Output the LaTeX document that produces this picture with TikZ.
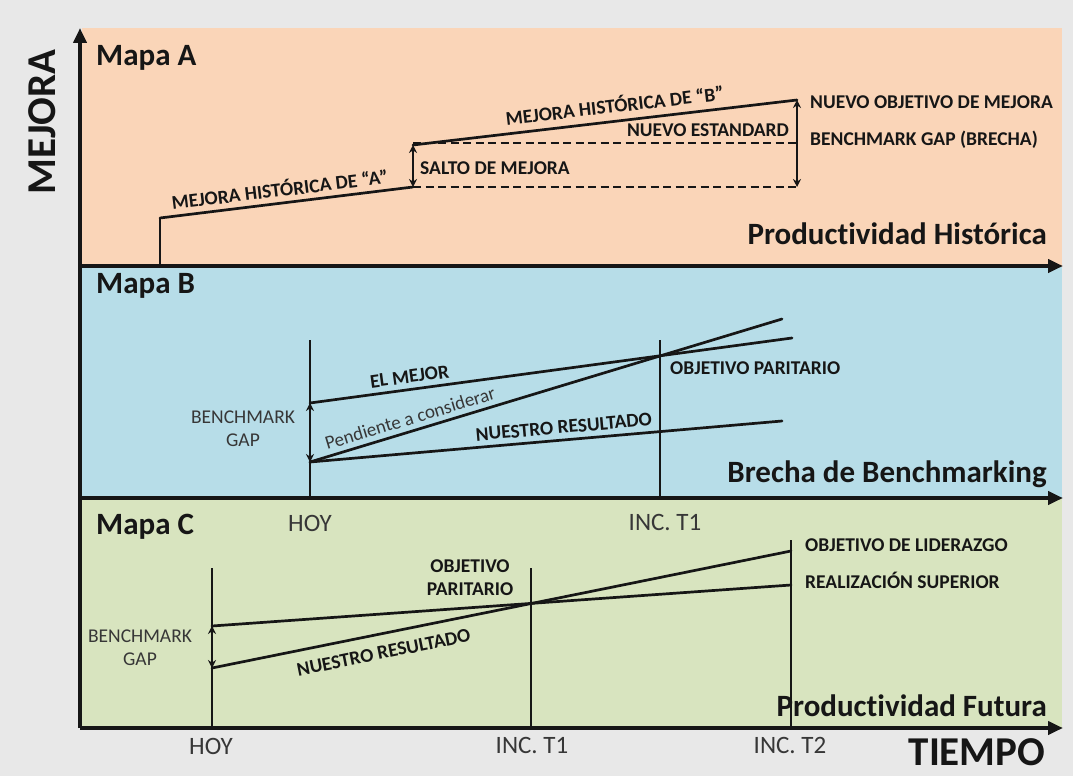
\documentclass[tikz,border=0pt]{standalone}
\usepackage{fontspec}
\setmainfont{Carlito}[Ligatures={NoCommon,NoRare,NoContextual}]
\usetikzlibrary{arrows.meta}

\definecolor{paper}{RGB}{232,232,232}
\definecolor{peach}{RGB}{250,213,184}
\definecolor{sky}{RGB}{183,221,232}
\definecolor{sage}{RGB}{216,228,191}
\definecolor{ink}{RGB}{22,22,22}
\definecolor{softink}{RGB}{55,55,55}

\begin{document}
\begin{tikzpicture}[x=1pt,y=-1pt,
  axis/.style={line width=4pt,draw=ink,-{Triangle[length=15pt,width=13pt]}},
  trend/.style={line width=2.7pt,draw=ink,line cap=round},
  marker/.style={line width=1.4pt,draw=ink},
  guide/.style={line width=2.3pt,draw=ink,dash pattern=on 8pt off 4.5pt},
  gaparrow/.style={line width=2pt,draw=ink,{Stealth[length=8pt,width=8pt]}-{Stealth[length=8pt,width=8pt]}},
  heading/.style={font=\fontsize{31}{34}\selectfont\bfseries,text=ink,inner sep=0pt},
  axistitle/.style={font=\fontsize{41}{44}\selectfont\bfseries,text=ink,inner sep=0pt},
  tag/.style={font=\fontsize{19.5}{22}\selectfont\bfseries,text=ink,inner sep=0pt},
  plain/.style={font=\fontsize{19.5}{23}\selectfont,text=softink,inner sep=0pt,align=center},
  tick/.style={font=\fontsize{25}{28}\selectfont,text=softink,inner sep=0pt}
]
\useasboundingbox (0,0) rectangle (1073,776);
\fill[paper] (0,0) rectangle (1073,776);

% three map bands
\fill[peach] (82,28) rectangle (1062,267);
\fill[sky]   (82,267) rectangle (1062,498);
\fill[sage]  (82,498) rectangle (1062,728);

% ---------- Mapa A: historical productivity ----------
\coordinate (a0) at (160,266);
\coordinate (a1) at (160,218);
\coordinate (a2) at (413,187);
\coordinate (a3) at (413,145);
\coordinate (a4) at (797,100);
\coordinate (a5) at (797,187);
\coordinate (s1) at (413,143);
\coordinate (s2) at (797,143);

\draw[marker] (a0) -- (a1);
\draw[trend] (a1) -- (a2)
  node[pos=0.48,sloped,above=5pt,tag] {MEJORA HISTÓRICA DE “A”};
\draw[trend] (a3) -- (a4)
  node[pos=0.53,sloped,above=7pt,tag] {MEJORA HISTÓRICA DE “B”};
\draw[guide] (a2) -- (a5);
\draw[guide] (s1) -- (s2);
\draw[gaparrow] (a2) -- (a3);
\draw[gaparrow] (a4) -- (a5);

\node[tag] (estandard) at (708,130) {NUEVO ESTANDARD};
\node[tag,anchor=west] (salto) at (420,168) {SALTO DE MEJORA};
\node[tag,anchor=west] (objetivoA) at (810,102) {NUEVO OBJETIVO DE MEJORA};
\node[tag,anchor=west] (brechaA) at (810,140) {BENCHMARK GAP (BRECHA)};

% ---------- Mapa B: benchmarking gap ----------
\coordinate (hoyBtop) at (310,340);
\coordinate (hoyBbot) at (310,498);
\coordinate (t1Btop) at (660,340);
\coordinate (t1Bbot) at (660,498);
\coordinate (best0) at (310,403);
\coordinate (best1) at (792,338);
\coordinate (our0) at (310,462);
\coordinate (steep1) at (782,319);
\coordinate (our1) at (782,421);

\draw[marker] (hoyBtop) -- (hoyBbot);
\draw[marker] (t1Btop) -- (t1Bbot);
\draw[trend] (best0) -- (best1)
  node[pos=0.21,sloped,above=5pt,tag] {EL MEJOR};
\draw[trend] (our0) -- (steep1)
  node[pos=0.22,sloped,above=5pt,font=\fontsize{19}{21}\selectfont,text=softink,inner sep=0pt] {Pendiente a considerar};
\draw[trend] (our0) -- (our1)
  node[pos=0.54,sloped,above=5pt,tag] {NUESTRO RESULTADO};
\draw[gaparrow] (best0) -- (our0);

\node[plain] (gapB) at (243,429) {BENCHMARK\\GAP};
\node[tag,anchor=west] (paritarioB) at (670,368) {OBJETIVO PARITARIO};

% ---------- Mapa C: future productivity ----------
\coordinate (hoyCtop) at (212,568);
\coordinate (hoyCbot) at (212,728);
\coordinate (t1Ctop) at (531,568);
\coordinate (t1Cbot) at (531,728);
\coordinate (t2Ctop) at (791,540);
\coordinate (t2Cbot) at (791,728);
\coordinate (sup0) at (212,626);
\coordinate (sup1) at (791,585);
\coordinate (ourC0) at (212,668);
\coordinate (ourC1) at (791,551);

\draw[marker] (hoyCtop) -- (hoyCbot);
\draw[marker] (t1Ctop) -- (t1Cbot);
\draw[marker] (t2Ctop) -- (t2Cbot);
\draw[trend] (sup0) -- (sup1);
\draw[trend] (ourC0) -- (ourC1)
  node[pos=0.29,sloped,below=11pt,tag] {NUESTRO RESULTADO};
\draw[gaparrow] (sup0) -- (ourC0);

\node[plain] (gapC) at (140,648) {BENCHMARK\\GAP};
\node[tag,align=center,font=\fontsize{19.5}{23}\selectfont\bfseries] (paritarioC) at (470,578) {OBJETIVO\\PARITARIO};
\node[tag,anchor=west] (liderazgo) at (805,545) {OBJETIVO DE LIDERAZGO};
\node[tag,anchor=west] (superior) at (805,580) {REALIZACIÓN SUPERIOR};

% ---------- axes ----------
\coordinate (origin) at (80,728);
\coordinate (ytop) at (80,28);
\coordinate (xA0) at (80,266);
\coordinate (xA1) at (1063,266);
\coordinate (xB0) at (80,498);
\coordinate (xB1) at (1063,498);
\coordinate (xC1) at (1063,728);
\draw[axis] (origin) -- (ytop);
\draw[axis] (xA0) -- (xA1);
\draw[axis] (xB0) -- (xB1);
\draw[axis] (origin) -- (xC1);

% ---------- titles and time labels ----------
\node[heading,anchor=west] (mapaA) at (96,58) {Mapa A};
\node[heading,anchor=west] (mapaB) at (96,286) {Mapa B};
\node[heading,anchor=west] (mapaC) at (96,527) {Mapa C};
\node[heading,anchor=east] (histA) at (1047,234) {Productividad Histórica};
\node[heading,anchor=east] (brechaB) at (1047,474) {Brecha de Benchmarking};
\node[heading,anchor=east] (futuraC) at (1047,706) {Productividad Futura};

\node[axistitle,rotate=90] (mejora) at (42,122) {MEJORA};
\node[axistitle] (tiempo) at (977,752) {TIEMPO};

\node[tick] (hoyB) at (310,523) {HOY};
\node[tick] (inct1B) at (665,522) {INC. T1};
\node[tick] (hoyC) at (211,746) {HOY};
\node[tick] (inct1C) at (532,745) {INC. T1};
\node[tick] (inct2C) at (790,745) {INC. T2};
\end{tikzpicture}
\end{document}
